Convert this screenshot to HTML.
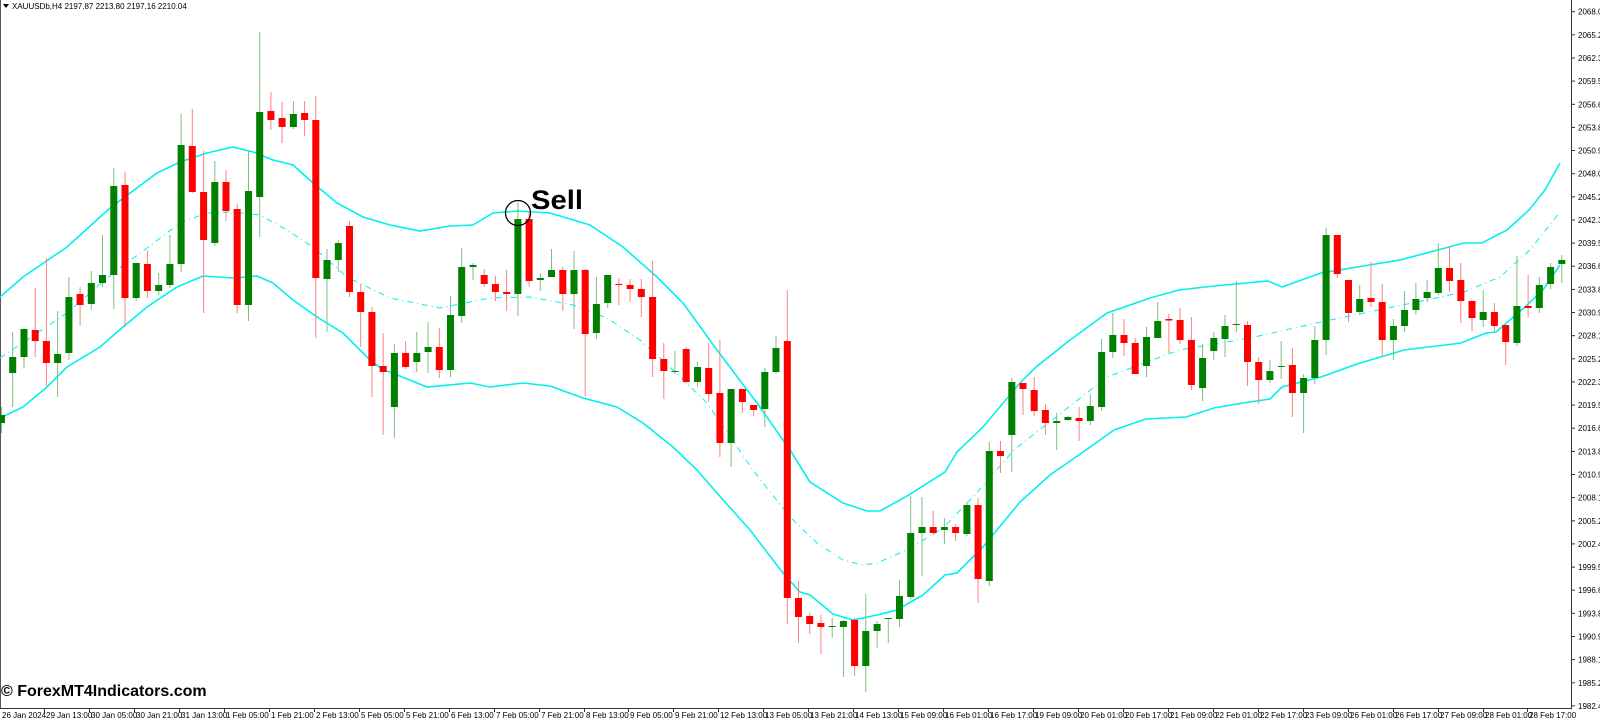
<!DOCTYPE html>
<html><head><meta charset="utf-8"><style>
html,body{margin:0;padding:0;background:#fff;}
svg{display:block;font-family:"Liberation Sans",Arial,sans-serif;}
</style></head><body>
<svg width="1600" height="720" viewBox="0 0 1600 720" xmlns="http://www.w3.org/2000/svg">
<rect width="1600" height="720" fill="#fff"/>
<line x1="0.5" y1="0" x2="0.5" y2="708" stroke="#555"/>
<line x1="1571.5" y1="0" x2="1571.5" y2="709" stroke="#333"/>
<line x1="0" y1="708.5" x2="1572" y2="708.5" stroke="#333"/>
<polyline fill="none" stroke="#00f0f0" stroke-width="1.6" points="0,297 23,277 67,247 110,208 157,173 180,162 207,153 233,147 253,152 273,160 293,165 313,183 337,203 363,217 390,225 420,231 450,226 473,225 493,213 517,211 550,213 590,225 623,247 657,277 683,303 717,350 757,403 790,450 810,482 843,503 867,511 880,511 907,496 945,472 957,452 983,427 1020,383 1036,367 1070,340 1107,313 1150,298 1179,290 1214,286 1268,281 1282,287 1321,273 1357,267 1400,260 1464,243 1482,243 1507,230 1529,210 1545,190 1560,163"/>
<polyline fill="none" stroke="#00f0f0" stroke-width="1.6" points="0,418 23,407 47,387 67,367 100,347 123,327 147,307 177,287 203,276 233,278 257,276 273,283 293,300 317,317 343,333 367,357 383,370 390,372 427,387 470,383 490,387 523,383 550,386 583,398 617,407 643,423 673,447 697,470 717,493 750,530 783,573 800,592 810,595 833,614 853,620 877,615 897,610 923,595 945,575 957,573 983,547 1020,502 1050,475 1086,450 1114,430 1146,419 1186,417 1214,408 1243,403 1270,399 1282,387 1321,377 1357,364 1404,350 1461,343 1486,333 1496,332 1525,307 1543,290 1560,265"/>
<polyline fill="none" stroke="#00f0f0" stroke-width="1" stroke-dasharray="6,4,1,4" points="0,358 67,313 113,273 147,248 180,223 207,213 233,212 260,215 287,230 313,247 347,277 390,298 440,308 490,298 530,297 573,305 607,318 640,340 673,370 707,403 753,470 790,517 817,543 843,560 863,565 877,563 907,550 943,528 973,497 1014,450 1107,377 1179,350 1250,338 1321,322 1393,307 1464,292 1500,277 1530,250 1560,212"/>
<g stroke-width="1">
<g stroke="#7fbf7f"><line x1="1.5" y1="407" x2="1.5" y2="433"/><line x1="12.7" y1="332" x2="12.7" y2="407"/><line x1="24" y1="328" x2="24" y2="368"/><line x1="57.6" y1="311" x2="57.6" y2="397"/><line x1="68.9" y1="277" x2="68.9" y2="360"/><line x1="91.3" y1="271" x2="91.3" y2="310"/><line x1="102.5" y1="235" x2="102.5" y2="287"/><line x1="113.8" y1="168" x2="113.8" y2="309"/><line x1="136.2" y1="263" x2="136.2" y2="301"/><line x1="158.7" y1="273" x2="158.7" y2="295"/><line x1="169.9" y1="235" x2="169.9" y2="288"/><line x1="181.1" y1="114" x2="181.1" y2="272"/><line x1="214.8" y1="161" x2="214.8" y2="246"/><line x1="248.5" y1="151" x2="248.5" y2="321"/><line x1="259.7" y1="32" x2="259.7" y2="237"/><line x1="293.4" y1="101" x2="293.4" y2="129"/><line x1="327" y1="249" x2="327" y2="332"/><line x1="338.3" y1="240" x2="338.3" y2="272"/><line x1="394.4" y1="344" x2="394.4" y2="438"/><line x1="416.8" y1="332" x2="416.8" y2="372"/><line x1="428.1" y1="322" x2="428.1" y2="373"/><line x1="450.5" y1="296" x2="450.5" y2="377"/><line x1="461.7" y1="248" x2="461.7" y2="323"/><line x1="473" y1="263" x2="473" y2="280"/><line x1="517.9" y1="202" x2="517.9" y2="316"/><line x1="540.3" y1="273" x2="540.3" y2="291"/><line x1="551.5" y1="249" x2="551.5" y2="277"/><line x1="574" y1="251" x2="574" y2="329"/><line x1="596.4" y1="277" x2="596.4" y2="339"/><line x1="607.7" y1="275" x2="607.7" y2="308"/><line x1="675" y1="351" x2="675" y2="374"/><line x1="697.5" y1="362" x2="697.5" y2="387"/><line x1="731.1" y1="389" x2="731.1" y2="467"/><line x1="764.8" y1="368" x2="764.8" y2="427"/><line x1="776" y1="336" x2="776" y2="374"/><line x1="832.2" y1="618" x2="832.2" y2="638"/><line x1="843.4" y1="620" x2="843.4" y2="677"/><line x1="865.8" y1="594" x2="865.8" y2="692"/><line x1="877.1" y1="621" x2="877.1" y2="648"/><line x1="888.3" y1="618" x2="888.3" y2="643"/><line x1="899.5" y1="580" x2="899.5" y2="627"/><line x1="910.7" y1="496" x2="910.7" y2="599"/><line x1="922" y1="497" x2="922" y2="576"/><line x1="944.4" y1="518" x2="944.4" y2="544"/><line x1="966.9" y1="502" x2="966.9" y2="536"/><line x1="989.3" y1="442" x2="989.3" y2="586"/><line x1="1011.8" y1="378" x2="1011.8" y2="472"/><line x1="1056.7" y1="413" x2="1056.7" y2="450"/><line x1="1067.9" y1="416" x2="1067.9" y2="421"/><line x1="1090.3" y1="394" x2="1090.3" y2="425"/><line x1="1101.6" y1="339" x2="1101.6" y2="411"/><line x1="1112.8" y1="313" x2="1112.8" y2="358"/><line x1="1146.5" y1="327" x2="1146.5" y2="377"/><line x1="1157.7" y1="302" x2="1157.7" y2="338"/><line x1="1202.6" y1="344" x2="1202.6" y2="401"/><line x1="1213.8" y1="332" x2="1213.8" y2="360"/><line x1="1225" y1="315" x2="1225" y2="357"/><line x1="1236.3" y1="281" x2="1236.3" y2="332"/><line x1="1269.9" y1="360" x2="1269.9" y2="383"/><line x1="1281.2" y1="341" x2="1281.2" y2="379"/><line x1="1303.6" y1="374" x2="1303.6" y2="433"/><line x1="1314.8" y1="326" x2="1314.8" y2="384"/><line x1="1326.1" y1="228" x2="1326.1" y2="355"/><line x1="1359.7" y1="285" x2="1359.7" y2="315"/><line x1="1393.4" y1="319" x2="1393.4" y2="360"/><line x1="1404.6" y1="291" x2="1404.6" y2="332"/><line x1="1415.9" y1="283" x2="1415.9" y2="315"/><line x1="1427.1" y1="280" x2="1427.1" y2="302"/><line x1="1438.3" y1="243" x2="1438.3" y2="295"/><line x1="1483.2" y1="290" x2="1483.2" y2="327"/><line x1="1516.9" y1="256" x2="1516.9" y2="346"/><line x1="1539.3" y1="277" x2="1539.3" y2="313"/><line x1="1550.6" y1="263" x2="1550.6" y2="289"/><line x1="1561.8" y1="255" x2="1561.8" y2="283"/></g>
<g stroke="#ff8080"><line x1="35.2" y1="288" x2="35.2" y2="357"/><line x1="46.4" y1="258" x2="46.4" y2="386"/><line x1="80.1" y1="287" x2="80.1" y2="326"/><line x1="125" y1="172" x2="125" y2="327"/><line x1="147.4" y1="250" x2="147.4" y2="298"/><line x1="192.3" y1="109" x2="192.3" y2="193"/><line x1="203.6" y1="151" x2="203.6" y2="313"/><line x1="226" y1="170" x2="226" y2="221"/><line x1="237.2" y1="204" x2="237.2" y2="313"/><line x1="270.9" y1="92" x2="270.9" y2="130"/><line x1="282.1" y1="102" x2="282.1" y2="143"/><line x1="304.6" y1="101" x2="304.6" y2="136"/><line x1="315.8" y1="96" x2="315.8" y2="338"/><line x1="349.5" y1="221" x2="349.5" y2="297"/><line x1="360.7" y1="284" x2="360.7" y2="347"/><line x1="371.9" y1="307" x2="371.9" y2="397"/><line x1="383.2" y1="333" x2="383.2" y2="435"/><line x1="405.6" y1="341" x2="405.6" y2="369"/><line x1="439.3" y1="328" x2="439.3" y2="378"/><line x1="484.2" y1="269" x2="484.2" y2="287"/><line x1="495.4" y1="276" x2="495.4" y2="301"/><line x1="506.6" y1="270" x2="506.6" y2="311"/><line x1="529.1" y1="211" x2="529.1" y2="287"/><line x1="562.8" y1="267" x2="562.8" y2="311"/><line x1="585.2" y1="269" x2="585.2" y2="396"/><line x1="618.9" y1="278" x2="618.9" y2="305"/><line x1="630.1" y1="279" x2="630.1" y2="302"/><line x1="641.3" y1="279" x2="641.3" y2="317"/><line x1="652.6" y1="261" x2="652.6" y2="377"/><line x1="663.8" y1="343" x2="663.8" y2="399"/><line x1="686.2" y1="347" x2="686.2" y2="383"/><line x1="708.7" y1="343" x2="708.7" y2="402"/><line x1="719.9" y1="340" x2="719.9" y2="457"/><line x1="742.4" y1="389" x2="742.4" y2="413"/><line x1="753.6" y1="405" x2="753.6" y2="416"/><line x1="787.3" y1="290" x2="787.3" y2="624"/><line x1="798.5" y1="581" x2="798.5" y2="643"/><line x1="809.7" y1="613" x2="809.7" y2="634"/><line x1="820.9" y1="615" x2="820.9" y2="654"/><line x1="854.6" y1="618" x2="854.6" y2="676"/><line x1="933.2" y1="511" x2="933.2" y2="535"/><line x1="955.6" y1="524" x2="955.6" y2="541"/><line x1="978.1" y1="498" x2="978.1" y2="603"/><line x1="1000.5" y1="441" x2="1000.5" y2="473"/><line x1="1023" y1="383" x2="1023" y2="415"/><line x1="1034.2" y1="377" x2="1034.2" y2="416"/><line x1="1045.4" y1="404" x2="1045.4" y2="435"/><line x1="1079.1" y1="407" x2="1079.1" y2="441"/><line x1="1124" y1="319" x2="1124" y2="356"/><line x1="1135.2" y1="338" x2="1135.2" y2="374"/><line x1="1168.9" y1="314" x2="1168.9" y2="353"/><line x1="1180.1" y1="308" x2="1180.1" y2="344"/><line x1="1191.4" y1="317" x2="1191.4" y2="390"/><line x1="1247.5" y1="321" x2="1247.5" y2="386"/><line x1="1258.7" y1="357" x2="1258.7" y2="404"/><line x1="1292.4" y1="348" x2="1292.4" y2="417"/><line x1="1337.3" y1="235" x2="1337.3" y2="278"/><line x1="1348.5" y1="280" x2="1348.5" y2="322"/><line x1="1371" y1="262" x2="1371" y2="307"/><line x1="1382.2" y1="284" x2="1382.2" y2="357"/><line x1="1449.5" y1="246" x2="1449.5" y2="292"/><line x1="1460.8" y1="263" x2="1460.8" y2="323"/><line x1="1472" y1="300" x2="1472" y2="331"/><line x1="1494.4" y1="303" x2="1494.4" y2="331"/><line x1="1505.7" y1="325" x2="1505.7" y2="365"/><line x1="1528.1" y1="275" x2="1528.1" y2="317"/></g>
<g fill="#008000"><rect x="0" y="415" width="5" height="8"/><rect x="9.2" y="357" width="7" height="16"/><rect x="20.5" y="329" width="7" height="28"/><rect x="54.1" y="354" width="7" height="9"/><rect x="65.4" y="297" width="7" height="56"/><rect x="87.8" y="283" width="7" height="21"/><rect x="99" y="275" width="7" height="8"/><rect x="110.3" y="186" width="7" height="89"/><rect x="132.7" y="263" width="7" height="35"/><rect x="155.2" y="285" width="7" height="6"/><rect x="166.4" y="264" width="7" height="21"/><rect x="177.6" y="145" width="7" height="119"/><rect x="211.3" y="182" width="7" height="61"/><rect x="245" y="191" width="7" height="114"/><rect x="256.2" y="112" width="7" height="85"/><rect x="289.9" y="114" width="7" height="13"/><rect x="323.5" y="260" width="7" height="19"/><rect x="334.8" y="243" width="7" height="17"/><rect x="390.9" y="353" width="7" height="54"/><rect x="413.3" y="353" width="7" height="9"/><rect x="424.6" y="347" width="7" height="5"/><rect x="447" y="315" width="7" height="55"/><rect x="458.2" y="267" width="7" height="49"/><rect x="469.5" y="265" width="7" height="2"/><rect x="514.4" y="219" width="7" height="75"/><rect x="536.8" y="278" width="7" height="2"/><rect x="548" y="270" width="7" height="7"/><rect x="570.5" y="270" width="7" height="24"/><rect x="592.9" y="304" width="7" height="29"/><rect x="604.2" y="275" width="7" height="28"/><rect x="671.5" y="371" width="7" height="1"/><rect x="694" y="367" width="7" height="15"/><rect x="727.6" y="389" width="7" height="54"/><rect x="761.3" y="372" width="7" height="37"/><rect x="772.5" y="348" width="7" height="24"/><rect x="828.7" y="626" width="7" height="1"/><rect x="839.9" y="621" width="7" height="6"/><rect x="862.3" y="631" width="7" height="35"/><rect x="873.6" y="624" width="7" height="7"/><rect x="884.8" y="618" width="7" height="1"/><rect x="896" y="596" width="7" height="23"/><rect x="907.2" y="533" width="7" height="64"/><rect x="918.5" y="527" width="7" height="6"/><rect x="940.9" y="527" width="7" height="3"/><rect x="963.4" y="505" width="7" height="29"/><rect x="985.8" y="451" width="7" height="130"/><rect x="1008.3" y="382" width="7" height="53"/><rect x="1053.2" y="421" width="7" height="2"/><rect x="1064.4" y="417" width="7" height="3"/><rect x="1086.8" y="406" width="7" height="15"/><rect x="1098.1" y="352" width="7" height="55"/><rect x="1109.3" y="335" width="7" height="17"/><rect x="1143" y="337" width="7" height="29"/><rect x="1154.2" y="321" width="7" height="17"/><rect x="1199.1" y="358" width="7" height="30"/><rect x="1210.3" y="338" width="7" height="13"/><rect x="1221.5" y="326" width="7" height="13"/><rect x="1232.8" y="324" width="7" height="1"/><rect x="1266.4" y="371" width="7" height="9"/><rect x="1277.7" y="366" width="7" height="1"/><rect x="1300.1" y="378" width="7" height="15"/><rect x="1311.3" y="340" width="7" height="38"/><rect x="1322.6" y="235" width="7" height="105"/><rect x="1356.2" y="299" width="7" height="13"/><rect x="1389.9" y="326" width="7" height="14"/><rect x="1401.1" y="310" width="7" height="16"/><rect x="1412.4" y="299" width="7" height="11"/><rect x="1423.6" y="292" width="7" height="6"/><rect x="1434.8" y="268" width="7" height="25"/><rect x="1479.7" y="312" width="7" height="8"/><rect x="1513.4" y="306" width="7" height="37"/><rect x="1535.8" y="285" width="7" height="23"/><rect x="1547.1" y="267" width="7" height="17"/><rect x="1558.3" y="260" width="7" height="4"/></g>
<g fill="#ff0000"><rect x="31.7" y="330" width="7" height="11"/><rect x="42.9" y="341" width="7" height="22"/><rect x="76.6" y="294" width="7" height="11"/><rect x="121.5" y="185" width="7" height="113"/><rect x="143.9" y="264" width="7" height="27"/><rect x="188.8" y="146" width="7" height="46"/><rect x="200.1" y="192" width="7" height="48"/><rect x="222.5" y="182" width="7" height="29"/><rect x="233.7" y="209" width="7" height="96"/><rect x="267.4" y="111" width="7" height="9"/><rect x="278.6" y="118" width="7" height="9"/><rect x="301.1" y="113" width="7" height="7"/><rect x="312.3" y="120" width="7" height="158"/><rect x="346" y="226" width="7" height="66"/><rect x="357.2" y="292" width="7" height="20"/><rect x="368.4" y="312" width="7" height="54"/><rect x="379.7" y="366" width="7" height="6"/><rect x="402.1" y="353" width="7" height="14"/><rect x="435.8" y="347" width="7" height="23"/><rect x="480.7" y="275" width="7" height="9"/><rect x="491.9" y="284" width="7" height="8"/><rect x="503.1" y="292" width="7" height="2"/><rect x="525.6" y="219" width="7" height="62"/><rect x="559.3" y="270" width="7" height="24"/><rect x="581.7" y="270" width="7" height="64"/><rect x="615.4" y="284" width="7" height="1"/><rect x="626.6" y="285" width="7" height="4"/><rect x="637.8" y="289" width="7" height="8"/><rect x="649.1" y="297" width="7" height="62"/><rect x="660.3" y="359" width="7" height="12"/><rect x="682.7" y="349" width="7" height="33"/><rect x="705.2" y="368" width="7" height="26"/><rect x="716.4" y="393" width="7" height="50"/><rect x="738.9" y="389" width="7" height="13"/><rect x="750.1" y="405" width="7" height="5"/><rect x="783.8" y="341" width="7" height="257"/><rect x="795" y="598" width="7" height="19"/><rect x="806.2" y="616" width="7" height="8"/><rect x="817.4" y="623" width="7" height="4"/><rect x="851.1" y="620" width="7" height="46"/><rect x="929.7" y="527" width="7" height="6"/><rect x="952.1" y="527" width="7" height="6"/><rect x="974.6" y="505" width="7" height="74"/><rect x="997" y="451" width="7" height="5"/><rect x="1019.5" y="383" width="7" height="6"/><rect x="1030.7" y="390" width="7" height="21"/><rect x="1041.9" y="410" width="7" height="13"/><rect x="1075.6" y="418" width="7" height="3"/><rect x="1120.5" y="335" width="7" height="8"/><rect x="1131.7" y="343" width="7" height="31"/><rect x="1165.4" y="319" width="7" height="1.5"/><rect x="1176.6" y="320" width="7" height="20"/><rect x="1187.9" y="340" width="7" height="45"/><rect x="1244" y="325" width="7" height="37"/><rect x="1255.2" y="362" width="7" height="18"/><rect x="1288.9" y="365" width="7" height="28"/><rect x="1333.8" y="235" width="7" height="39"/><rect x="1345" y="280" width="7" height="33"/><rect x="1367.5" y="298" width="7" height="4"/><rect x="1378.7" y="302" width="7" height="38"/><rect x="1446" y="268" width="7" height="13"/><rect x="1457.3" y="280" width="7" height="21"/><rect x="1468.5" y="301" width="7" height="17"/><rect x="1490.9" y="312" width="7" height="14"/><rect x="1502.2" y="325" width="7" height="17"/><rect x="1524.6" y="306" width="7" height="2"/></g>
</g>
<circle cx="518" cy="213" r="12.5" fill="none" stroke="#000" stroke-width="1.3"/>
<text x="531" y="209" font-size="27" font-weight="bold" fill="#000" textLength="52" lengthAdjust="spacingAndGlyphs">Sell</text>
<path d="M3,4 L9,4 L6,8 Z" fill="#000"/>
<text x="12" y="9" font-size="8" fill="#000">XAUUSDb,H4  2197.87 2213.80 2197.16 2210.04</text>
<text x="1" y="696" font-size="16" font-weight="bold" fill="#000">© ForexMT4Indicators.com</text>
<g font-size="8" fill="#000">
<text x="1578" y="14.7">2068.05</text><text x="1578" y="37.8">2065.20</text><text x="1578" y="61">2062.35</text><text x="1578" y="84.1">2059.50</text><text x="1578" y="107.3">2056.65</text><text x="1578" y="130.4">2053.80</text><text x="1578" y="153.5">2050.90</text><text x="1578" y="176.7">2048.05</text><text x="1578" y="199.8">2045.20</text><text x="1578" y="223">2042.35</text><text x="1578" y="246.1">2039.50</text><text x="1578" y="269.2">2036.65</text><text x="1578" y="292.4">2033.80</text><text x="1578" y="315.5">2030.95</text><text x="1578" y="338.7">2028.10</text><text x="1578" y="361.8">2025.25</text><text x="1578" y="384.9">2022.35</text><text x="1578" y="408.1">2019.50</text><text x="1578" y="431.2">2016.65</text><text x="1578" y="454.4">2013.80</text><text x="1578" y="477.5">2010.95</text><text x="1578" y="500.6">2008.10</text><text x="1578" y="523.8">2005.25</text><text x="1578" y="546.9">2002.40</text><text x="1578" y="570.1">1999.55</text><text x="1578" y="593.2">1996.65</text><text x="1578" y="616.3">1993.80</text><text x="1578" y="639.5">1990.95</text><text x="1578" y="662.6">1988.10</text><text x="1578" y="685.8">1985.25</text><text x="1578" y="708.9">1982.40</text>
</g>
<g stroke="#333"><line x1="1572" y1="11.7" x2="1575" y2="11.7"/><line x1="1572" y1="34.8" x2="1575" y2="34.8"/><line x1="1572" y1="58" x2="1575" y2="58"/><line x1="1572" y1="81.1" x2="1575" y2="81.1"/><line x1="1572" y1="104.3" x2="1575" y2="104.3"/><line x1="1572" y1="127.4" x2="1575" y2="127.4"/><line x1="1572" y1="150.5" x2="1575" y2="150.5"/><line x1="1572" y1="173.7" x2="1575" y2="173.7"/><line x1="1572" y1="196.8" x2="1575" y2="196.8"/><line x1="1572" y1="220" x2="1575" y2="220"/><line x1="1572" y1="243.1" x2="1575" y2="243.1"/><line x1="1572" y1="266.2" x2="1575" y2="266.2"/><line x1="1572" y1="289.4" x2="1575" y2="289.4"/><line x1="1572" y1="312.5" x2="1575" y2="312.5"/><line x1="1572" y1="335.7" x2="1575" y2="335.7"/><line x1="1572" y1="358.8" x2="1575" y2="358.8"/><line x1="1572" y1="381.9" x2="1575" y2="381.9"/><line x1="1572" y1="405.1" x2="1575" y2="405.1"/><line x1="1572" y1="428.2" x2="1575" y2="428.2"/><line x1="1572" y1="451.4" x2="1575" y2="451.4"/><line x1="1572" y1="474.5" x2="1575" y2="474.5"/><line x1="1572" y1="497.6" x2="1575" y2="497.6"/><line x1="1572" y1="520.8" x2="1575" y2="520.8"/><line x1="1572" y1="543.9" x2="1575" y2="543.9"/><line x1="1572" y1="567.1" x2="1575" y2="567.1"/><line x1="1572" y1="590.2" x2="1575" y2="590.2"/><line x1="1572" y1="613.3" x2="1575" y2="613.3"/><line x1="1572" y1="636.5" x2="1575" y2="636.5"/><line x1="1572" y1="659.6" x2="1575" y2="659.6"/><line x1="1572" y1="682.8" x2="1575" y2="682.8"/><line x1="1572" y1="705.9" x2="1575" y2="705.9"/></g>
<g font-size="8" fill="#000">
<text x="2" y="718">26 Jan 2024</text><text x="46" y="718">29 Jan 13:00</text><text x="91" y="718">30 Jan 05:00</text><text x="136" y="718">30 Jan 21:00</text><text x="181" y="718">31 Jan 13:00</text><text x="226" y="718">1 Feb 05:00</text><text x="271" y="718">1 Feb 21:00</text><text x="316" y="718">2 Feb 13:00</text><text x="361" y="718">5 Feb 05:00</text><text x="406" y="718">5 Feb 21:00</text><text x="451" y="718">6 Feb 13:00</text><text x="496" y="718">7 Feb 05:00</text><text x="541" y="718">7 Feb 21:00</text><text x="586" y="718">8 Feb 13:00</text><text x="630" y="718">9 Feb 05:00</text><text x="675" y="718">9 Feb 21:00</text><text x="720" y="718">12 Feb 13:00</text><text x="765" y="718">13 Feb 05:00</text><text x="810" y="718">13 Feb 21:00</text><text x="855" y="718">14 Feb 13:00</text><text x="900" y="718">15 Feb 09:00</text><text x="945" y="718">16 Feb 01:00</text><text x="990" y="718">16 Feb 17:00</text><text x="1035" y="718">19 Feb 09:00</text><text x="1080" y="718">20 Feb 01:00</text><text x="1125" y="718">20 Feb 17:00</text><text x="1170" y="718">21 Feb 09:00</text><text x="1215" y="718">22 Feb 01:00</text><text x="1260" y="718">22 Feb 17:00</text><text x="1305" y="718">23 Feb 09:00</text><text x="1350" y="718">26 Feb 01:00</text><text x="1395" y="718">26 Feb 17:00</text><text x="1440" y="718">27 Feb 09:00</text><text x="1485" y="718">28 Feb 01:00</text><text x="1529" y="718">28 Feb 17:00</text>
</g>
<g stroke="#333"><line x1="44.5" y1="709" x2="44.5" y2="712"/><line x1="89.5" y1="709" x2="89.5" y2="712"/><line x1="134.5" y1="709" x2="134.5" y2="712"/><line x1="179.5" y1="709" x2="179.5" y2="712"/><line x1="224.5" y1="709" x2="224.5" y2="712"/><line x1="269.5" y1="709" x2="269.5" y2="712"/><line x1="314.5" y1="709" x2="314.5" y2="712"/><line x1="359.5" y1="709" x2="359.5" y2="712"/><line x1="404.5" y1="709" x2="404.5" y2="712"/><line x1="449.5" y1="709" x2="449.5" y2="712"/><line x1="494.5" y1="709" x2="494.5" y2="712"/><line x1="539.5" y1="709" x2="539.5" y2="712"/><line x1="584.5" y1="709" x2="584.5" y2="712"/><line x1="628.5" y1="709" x2="628.5" y2="712"/><line x1="673.5" y1="709" x2="673.5" y2="712"/><line x1="718.5" y1="709" x2="718.5" y2="712"/><line x1="763.5" y1="709" x2="763.5" y2="712"/><line x1="808.5" y1="709" x2="808.5" y2="712"/><line x1="853.5" y1="709" x2="853.5" y2="712"/><line x1="898.5" y1="709" x2="898.5" y2="712"/><line x1="943.5" y1="709" x2="943.5" y2="712"/><line x1="988.5" y1="709" x2="988.5" y2="712"/><line x1="1033.5" y1="709" x2="1033.5" y2="712"/><line x1="1078.5" y1="709" x2="1078.5" y2="712"/><line x1="1123.5" y1="709" x2="1123.5" y2="712"/><line x1="1168.5" y1="709" x2="1168.5" y2="712"/><line x1="1213.5" y1="709" x2="1213.5" y2="712"/><line x1="1258.5" y1="709" x2="1258.5" y2="712"/><line x1="1303.5" y1="709" x2="1303.5" y2="712"/><line x1="1348.5" y1="709" x2="1348.5" y2="712"/><line x1="1393.5" y1="709" x2="1393.5" y2="712"/><line x1="1438.5" y1="709" x2="1438.5" y2="712"/><line x1="1483.5" y1="709" x2="1483.5" y2="712"/><line x1="1527.5" y1="709" x2="1527.5" y2="712"/></g>
</svg>
</body></html>
